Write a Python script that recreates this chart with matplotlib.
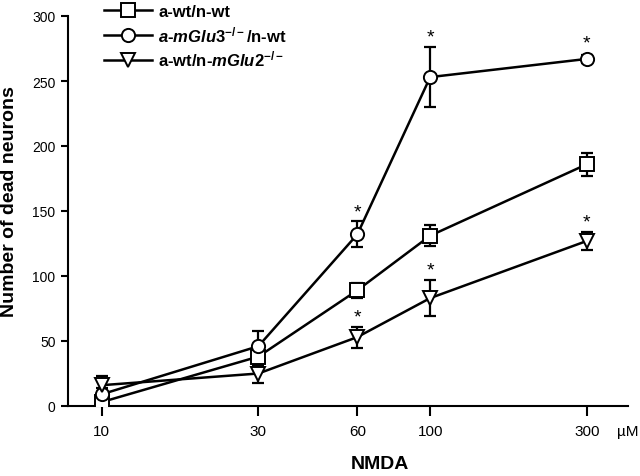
import matplotlib.pyplot as plt
import matplotlib.ticker as mticker

plt.rcParams['font.family'] = ['Liberation Sans', 'DejaVu Sans']
plt.rcParams['mathtext.fontset'] = 'custom'
plt.rcParams['mathtext.rm'] = 'Liberation Sans:bold'
plt.rcParams['mathtext.bf'] = 'Liberation Sans:bold'
plt.rcParams['mathtext.it'] = 'Liberation Sans:italic:bold'

# NMDA concentrations (uM)
conc = [10, 30, 60, 100, 300]
tick_labels = ["10", "30", "60", "100", "300"]

# dead neurons, mean and error per genotype
wt = [3, 38, 89, 131, 186]
wt_err = [6, 7, 6, 8, 9]
mglu3 = [9, 46, 132, 253, 267]
mglu3_err = [5, 12, 10, 23, 3]
mglu2 = [16, 25, 53, 83, 127]
mglu2_err = [7, 7, 8, 14, 7]

# points marked significant
mglu3_star = [2, 3, 4]
mglu2_star = [2, 3, 4]

labels = ["a-wt/n-wt",
          r"$\mathit{a\text{-}mGlu3}^{\mathit{-/-}}$/n-wt",
          r"a-wt/n-$\mathit{mGlu2}^{\mathit{-/-}}$"]

fig = plt.figure(figsize=(6.4, 4.77), dpi=100)
ax = fig.add_axes([68/640, 1-407/477, 560/640, 390/477])

series = [(wt, wt_err, 's'), (mglu3, mglu3_err, 'o'), (mglu2, mglu2_err, 'v')]
for (vals, errs, mk), lab in zip(series, labels):
    ax.errorbar(conc, vals, yerr=errs, fmt='none', ecolor='black',
                elinewidth=1.6, capsize=4.5, capthick=1.6, zorder=2)
    ax.plot(conc, vals, color='black', lw=1.8, marker=mk, markersize=9.5,
            markerfacecolor='white', markeredgecolor='black',
            markeredgewidth=1.4, label=lab, zorder=3)

# significance stars above the error bars
for vals, errs, idx in [(mglu3, mglu3_err, mglu3_star), (mglu2, mglu2_err, mglu2_star)]:
    for i in idx:
        top = vals[i] + max(errs[i], 5)
        ax.annotate('*', (conc[i], top), xytext=(0, 1), textcoords='offset points',
                    ha='center', va='bottom', fontsize=14)

ax.set_xscale('log')
ax.set_xlim(7.9, 400)
ax.set_ylim(0, 300)
ax.xaxis.set_major_locator(mticker.FixedLocator(conc))
ax.xaxis.set_major_formatter(mticker.FixedFormatter(tick_labels))
ax.xaxis.set_minor_locator(mticker.NullLocator())
ax.set_yticks([0, 50, 100, 150, 200, 250, 300])

ax.spines['top'].set_visible(False)
ax.spines['right'].set_visible(False)
ax.spines['left'].set_linewidth(1.5)
ax.spines['bottom'].set_linewidth(1.5)
ax.tick_params(axis='x', length=7, width=1.5, pad=6, labelsize=11)
ax.tick_params(axis='y', length=5, width=1.5, pad=4, labelsize=10)

ax.text(1.0, -0.065, "\u00b5M", transform=ax.transAxes, ha='center', va='center', fontsize=11)

ax.set_xlabel("NMDA", fontsize=14, fontweight='bold')
ax.set_ylabel("Number of dead neurons", fontsize=14, fontweight='bold')
ax.xaxis.set_label_coords((380 - 68) / 560, (407 - 456) / 390)
ax.yaxis.set_label_coords((18 - 68) / 560, 0.5 + 10 / 390)

ax.legend(loc='upper left', bbox_to_anchor=(104/640, 1 - 5/477), bbox_transform=fig.transFigure,
          frameon=False, prop={'weight': 'bold', 'size': 12}, handlelength=2.9,
          handletextpad=0.35, labelspacing=0.3, borderpad=0, borderaxespad=0)

fig.savefig("out.png", dpi=100)
